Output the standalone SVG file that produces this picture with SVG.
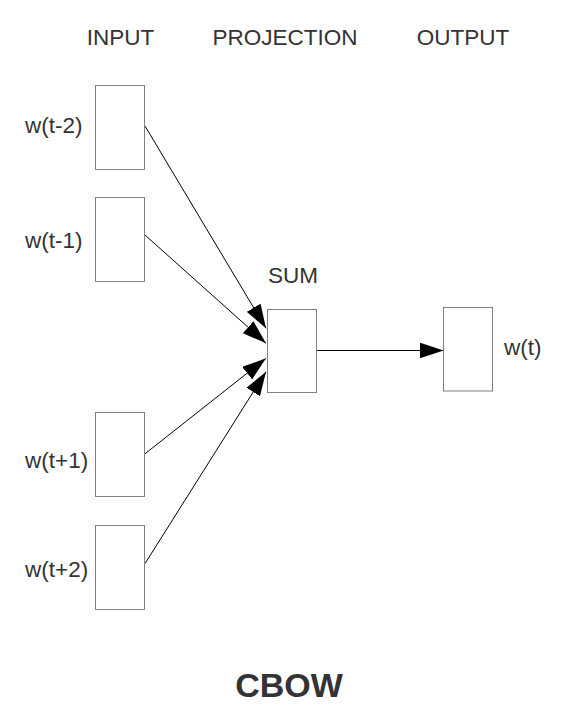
<svg xmlns="http://www.w3.org/2000/svg" width="574" height="726" viewBox="0 0 574 726">
<style>
.box{fill:#fff;stroke:#808080;stroke-width:1}
.t{font-family:"Liberation Sans",Arial,sans-serif;font-size:22.5px;fill:#333}
.title{font-family:"Liberation Sans",Arial,sans-serif;font-size:34px;font-weight:bold;fill:#333}
.edge{stroke:#000;stroke-width:1;fill:none;marker-end:url(#arr)}
</style>
<defs>
<marker id="arr" markerUnits="userSpaceOnUse" markerWidth="24" markerHeight="16" refX="24" refY="8" orient="auto" viewBox="0 0 24 16">
<path d="M0,0 L24,8 L0,16 z" fill="#000"/>
</marker>
</defs>
<rect width="574" height="726" fill="#fff"/>
<g id="headers">
<text class="t" x="120.5" y="45" text-anchor="middle">INPUT</text>
<text class="t" x="285" y="45" text-anchor="middle">PROJECTION</text>
<text class="t" x="463" y="45" text-anchor="middle">OUTPUT</text>
</g>
<g id="connectors">
<line class="edge" x1="145" y1="126" x2="266" y2="328.3"/>
<line class="edge" x1="145" y1="235" x2="266" y2="343.3"/>
<line class="edge" x1="145" y1="453.8" x2="266" y2="358.3"/>
<line class="edge" x1="145" y1="563.6" x2="266" y2="371.7"/>
<line class="edge" x1="314" y1="350.5" x2="443.5" y2="350.5"/>
</g>
<g id="in1">
<rect class="box" x="95.5" y="85.5" width="49" height="84"/>
<text class="t" x="25" y="133">w(t-2)</text>
</g>
<g id="in2">
<rect class="box" x="95.5" y="197.5" width="49" height="84"/>
<text class="t" x="25" y="248">w(t-1)</text>
</g>
<g id="in3">
<rect class="box" x="95.5" y="412.5" width="49" height="84"/>
<text class="t" x="25" y="468">w(t+1)</text>
</g>
<g id="in4">
<rect class="box" x="95.5" y="525.5" width="49" height="84"/>
<text class="t" x="25" y="577">w(t+2)</text>
</g>
<g id="sum">
<text class="t" x="293" y="282.5" text-anchor="middle">SUM</text>
<rect class="box" x="267.5" y="309.5" width="49" height="83"/>
</g>
<g id="out">
<rect class="box" x="443.5" y="307.5" width="49" height="83.5"/>
<text class="t" x="504" y="354.5">w(t)</text>
</g>
<g id="title">
<text class="title" x="289" y="697" text-anchor="middle">CBOW</text>
</g>
</svg>
